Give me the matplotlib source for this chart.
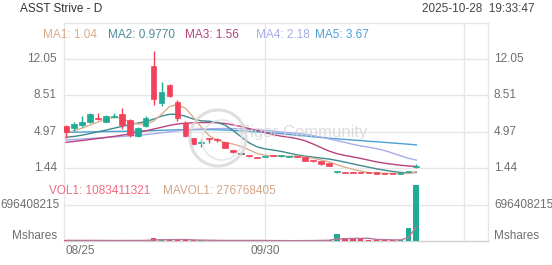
import matplotlib
matplotlib.use('Agg')
import matplotlib.pyplot as plt
from matplotlib.patches import Rectangle, Ellipse

plt.rcParams['font.family'] = ['Liberation Sans', 'DejaVu Sans']

# ---------------- data ----------------
title = "ASST Strive - D"
timestamp = "2025-10-28  19:33:47"
x_labels = ["08/25", "09/30"]
x_label_idx = [0, 25]
grid_idx = [25, 50]
price_ticks = [1.44, 4.97, 8.51, 12.05]
price_tick_labels = ["1.44", "4.97", "8.51", "12.05"]
vol_tick = 696408215
vol_tick_label = "696408215"
vol_unit = "Mshares"

opens = [5.52, 5.33, 5.62, 5.94, 6.33, 5.94, 6.40, 6.69, 6.11, 4.57,
         5.52, 11.39, 7.80, 9.53, 7.84, 5.84, 4.32, 3.90, 4.35, 4.25,
         3.92, 3.17, 2.80, 2.65, 2.47, 2.50, 2.66, 2.55, 2.52, 2.55,
         2.45, 2.12, 2.10, 1.85, 1.00, 0.97, 0.97, 0.98, 0.94, 0.90,
         0.86, 0.85, 0.83, 1.02, 1.52]
highs = [5.62, 5.94, 6.50, 6.79, 6.79, 6.60, 6.76, 7.28, 6.21, 5.42,
         6.50, 12.90, 9.86, 9.62, 8.07, 6.04, 4.38, 4.25, 4.37, 4.30,
         3.95, 3.20, 2.85, 2.72, 2.50, 2.60, 2.70, 2.66, 2.60, 2.58,
         2.48, 2.18, 2.14, 1.90, 1.15, 1.00, 0.99, 1.01, 0.96, 0.92,
         0.88, 0.87, 0.90, 1.12, 1.80]
lows = [4.35, 5.03, 5.45, 5.85, 6.11, 5.90, 6.27, 5.18, 4.47, 4.49,
        5.42, 7.57, 7.51, 8.33, 6.04, 4.44, 3.68, 3.49, 3.83, 3.95,
        3.35, 2.90, 2.75, 2.50, 2.36, 2.47, 2.55, 2.52, 2.48, 2.44,
        2.08, 2.00, 1.75, 1.60, 0.95, 0.90, 0.90, 0.92, 0.88, 0.85,
        0.80, 0.79, 0.81, 0.98, 1.45]
closes = [4.93, 5.72, 5.94, 6.69, 6.21, 6.50, 6.53, 5.62, 4.64, 5.33,
          6.33, 8.13, 8.88, 8.49, 6.27, 4.54, 3.73, 3.95, 4.28, 4.18,
          3.40, 2.95, 2.80, 2.58, 2.40, 2.57, 2.60, 2.62, 2.56, 2.48,
          2.12, 2.05, 1.80, 1.65, 1.08, 0.93, 0.93, 0.94, 0.90, 0.87,
          0.82, 0.82, 0.87, 1.09, 1.60]
volumes = [12e6, 10e6, 11e6, 13e6, 9e6, 8e6, 7e6, 12e6, 14e6, 9e6,
           15e6, 52e6, 30e6, 20e6, 18e6, 22e6, 15e6, 10e6, 8e6, 7e6,
           12e6, 14e6, 10e6, 8e6, 9e6, 7e6, 6e6, 6e6, 5e6, 6e6,
           15e6, 10e6, 20e6, 18e6, 135e6, 40e6, 32e6, 30e6, 25e6, 22e6,
           18e6, 18e6, 19.43e6, 245e6, 1083411321]

ma1 = [4.85, 5.05, 5.30, 5.62, 5.90, 6.21, 6.37, 6.31, 5.90, 5.72,
       5.69, 6.01, 6.66, 7.43, 7.62, 7.26, 6.38, 5.40, 4.55, 4.14,
       3.91, 3.75, 3.52, 3.18, 2.83, 2.66, 2.59, 2.55, 2.55, 2.57,
       2.48, 2.37, 2.20, 2.02, 1.74, 1.50, 1.28, 1.11, 0.96, 0.91,
       0.89, 0.87, 0.86, 0.89, 1.04]
ma2 = [4.41, 4.50, 4.62, 4.78, 4.95, 5.12, 5.30, 5.48, 5.65, 5.81,
       5.95, 6.19, 6.49, 6.67, 6.67, 6.48, 6.20, 6.03, 5.99, 5.88,
       5.59, 5.07, 4.46, 3.87, 3.48, 3.28, 3.17, 3.04, 2.87, 2.70,
       2.57, 2.48, 2.38, 2.29, 2.15, 1.99, 1.82, 1.65, 1.49, 1.33,
       1.20, 1.07, 0.98, 0.93, 0.977]
ma3 = [3.92, 4.01, 4.10, 4.20, 4.30, 4.40, 4.50, 4.62, 4.75, 4.90,
       5.05, 5.22, 5.40, 5.58, 5.72, 5.80, 5.84, 5.86, 5.86, 5.84,
       5.77, 5.63, 5.47, 5.27, 5.08, 4.88, 4.68, 4.53, 4.43, 4.29,
       4.08, 3.77, 3.42, 3.08, 2.82, 2.64, 2.50, 2.35, 2.18, 2.01,
       1.88, 1.78, 1.68, 1.61, 1.56]
ma4 = [4.15, 4.20, 4.25, 4.30, 4.35, 4.40, 4.45, 4.50, 4.55, 4.61,
       4.68, 4.76, 4.85, 4.95, 5.05, 5.12, 5.18, 5.22, 5.25, 5.27,
       5.28, 5.27, 5.25, 5.20, 5.15, 5.09, 5.02, 4.94, 4.86, 4.80,
       4.70, 4.58, 4.44, 4.27, 4.10, 3.92, 3.73, 3.57, 3.45, 3.30,
       3.12, 2.87, 2.61, 2.36, 2.18]
ma5 = [4.90, 4.92, 4.93, 4.95, 4.96, 4.98, 4.99, 5.00, 5.01, 5.03,
       5.04, 5.07, 5.10, 5.13, 5.15, 5.16, 5.17, 5.17, 5.16, 5.15,
       5.13, 5.09, 5.05, 5.00, 4.95, 4.90, 4.85, 4.78, 4.70, 4.62,
       4.55, 4.47, 4.40, 4.33, 4.27, 4.21, 4.15, 4.09, 4.03, 3.98,
       3.92, 3.86, 3.80, 3.74, 3.67]
mavol1 = [12e6, 12e6, 11e6, 11.5e6, 11e6, 10.2e6, 9.6e6, 9.8e6, 10e6, 10e6,
          11.4e6, 20.4e6, 24e6, 25.2e6, 27e6, 28.4e6, 21e6, 17e6, 14.6e6, 12.4e6,
          10.4e6, 10.2e6, 10.2e6, 10.2e6, 10.6e6, 9.6e6, 8e6, 7.2e6, 6.6e6, 6e6,
          7.6e6, 8.4e6, 11.2e6, 13.8e6, 39.6e6, 44.6e6, 49e6, 51e6, 52.4e6, 29.8e6,
          25.4e6, 22.6e6, 20.5e6, 64.5e6, 276768405]

ma_names = ["MA1", "MA2", "MA3", "MA4", "MA5"]
ma_last = ["1.04", "0.9770", "1.56", "2.18", "3.67"]
vol_legend = ["VOL1: 1083411321", "MAVOL1: 276768405"]
watermark = "Figor Community"

# ---------------- style ----------------
UP = '#22ab94'
DOWN = '#f2415a'
FLAT = '#555555'
ma_colors = ['#dcae8e', '#3f8a8f', '#b8427f', '#a7ace6', '#4aa0d6']
ma_text_colors = ['#d9a98a', '#4f8a9a', '#b5417f', '#a7ace6', '#4a9fd6']
GRID = '#e6e6e6'
LABEL = '#6f6f6f'
FS = 8.5

W, H = 552, 265
fig = plt.figure(figsize=(W / 100, H / 100), dpi=100)
fig.patch.set_facecolor('white')

def fx(px):
    return px / W

def fy(py):
    return 1 - py / H

ax = fig.add_axes([fx(64), fy(183), fx(488) - fx(64), fy(23) - fy(183)])
axv = fig.add_axes([fx(64), fy(241), fx(488) - fx(64), fy(183) - fy(241)])

n = len(closes)
idx = list(range(n))
XMIN, XMAX = -0.25, 53.0
for a in (ax, axv):
    a.set_xlim(XMIN, XMAX)
    a.set_xticks([])
    a.set_yticks([])
    a.set_facecolor('none')
    for s in a.spines.values():
        s.set_color(GRID)
        s.set_linewidth(1)
ax.set_ylim(-0.06, 15.61)
axv.set_ylim(0, 1.122e9)
ax.spines['bottom'].set_visible(False)
axv.spines['top'].set_visible(False)
axv.spines['bottom'].set_color('#d0d0d0')

# grid
for t in price_ticks:
    ax.axhline(t, color=GRID, lw=1, zorder=0)
axv.axhline(vol_tick, color=GRID, lw=1, zorder=0)
for g in grid_idx:
    ax.axvline(g, color=GRID, lw=1, zorder=0)
    axv.axvline(g, color=GRID, lw=1, zorder=0)

# watermark
fig.add_artist(Ellipse((fx(218), fy(138)), 56 / W, 56 / H, transform=fig.transFigure,
                       fill=False, ec='#d8d8d8', lw=2.2, alpha=0.8, zorder=1))
fig.add_artist(Ellipse((fx(222), fy(140)), 40 / W, 40 / H, transform=fig.transFigure,
                       fill=False, ec='#e2e2e2', lw=1.2, alpha=0.8, zorder=1))
fig.text(fx(240), fy(133), watermark, fontsize=12, color='#d4d4d4', alpha=0.8,
         ha='left', va='center', zorder=1)

# MA lines
for vals, c in zip([ma5, ma4, ma3, ma2, ma1], ma_colors[::-1]):
    ax.plot(idx, vals, color=c, lw=1.0, zorder=2)

# candles
bw = 0.72
min_h = 0.1
for i in idx:
    o, h, l, c = opens[i], highs[i], lows[i], closes[i]
    col = UP if c > o else (DOWN if c < o else FLAT)
    ax.vlines(i, l, h, color=col, lw=1.0, zorder=3)
    bottom = min(o, c)
    height = max(abs(c - o), min_h)
    if c == o:
        bottom -= min_h / 2
    ax.add_patch(Rectangle((i - bw / 2, bottom), bw, height, facecolor=col,
                           edgecolor=col, lw=0.5, zorder=4))

# volume
vcols = [UP if closes[i] > opens[i] else (DOWN if closes[i] < opens[i] else FLAT) for i in idx]
axv.bar(idx, volumes, width=bw, color=vcols, zorder=3)
axv.plot(idx, mavol1, color='#b8769a', lw=1.0, zorder=4)

# y labels
for t, lab in zip(price_ticks, price_tick_labels):
    ax.text(-7 / 424, t, lab, transform=ax.get_yaxis_transform(), ha='right',
            va='center', fontsize=FS, color=LABEL, clip_on=False)
    ax.text(1 + 6 / 424, t, lab, transform=ax.get_yaxis_transform(), ha='left',
            va='center', fontsize=FS, color=LABEL, clip_on=False)
axv.text(-63.5 / 424, vol_tick, vol_tick_label, transform=axv.get_yaxis_transform(),
         ha='left', va='center', fontsize=FS, color=LABEL, clip_on=False)
axv.text(1 + 6 / 424, vol_tick, vol_tick_label, transform=axv.get_yaxis_transform(),
         ha='left', va='center', fontsize=FS, color=LABEL, clip_on=False)
fig.text(fx(57), fy(236), vol_unit, ha='right', va='center', fontsize=FS, color=LABEL)
fig.text(fx(494), fy(236), vol_unit, ha='left', va='center', fontsize=FS, color=LABEL)

# x labels
for k, (xi, lab) in enumerate(zip(x_label_idx, x_labels)):
    if k == 0:
        fig.text(fx(65), fy(251), lab, ha='left', va='center', fontsize=FS, color=LABEL)
    else:
        axv.text(xi, -10 / 58, lab, transform=axv.get_xaxis_transform(), ha='center',
                 va='center', fontsize=FS, color=LABEL, clip_on=False)

# header
fig.text(fx(20), fy(8.5), title, ha='left', va='center', fontsize=FS, color='#333333')
fig.text(fx(535), fy(8.5), timestamp, ha='right', va='center', fontsize=FS, color='#444444')

# MA legend
ma_x = [43, 108, 185, 256, 315]
for px, name, val, c in zip(ma_x, ma_names, ma_last, ma_text_colors):
    fig.text(fx(px), fy(35), f"{name}: {val}", ha='left', va='center', fontsize=FS, color=c)

# volume legend
fig.text(fx(49), fy(191.5), vol_legend[0], ha='left', va='center', fontsize=FS, color='#f06a80')
fig.text(fx(163), fy(191.5), vol_legend[1], ha='left', va='center', fontsize=FS, color='#d4a68a')

fig.savefig('out.png', dpi=100, facecolor='white')
